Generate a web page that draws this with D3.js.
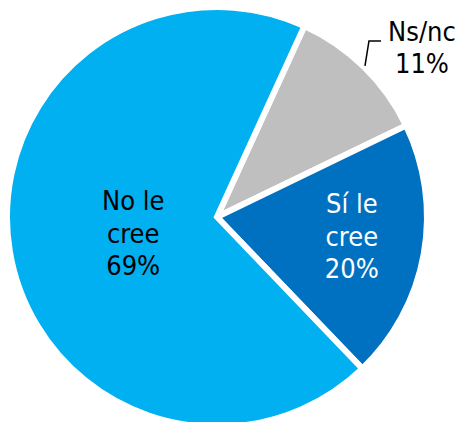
<!DOCTYPE html>
<html>
<head>
<meta charset="utf-8">
<script src="https://cdn.jsdelivr.net/npm/d3@7"></script>
<style>
  html, body { margin: 0; padding: 0; background: #ffffff; }
  svg { display: block; }
  text { font-family: "DejaVu Sans Condensed", "DejaVu Sans", sans-serif; font-stretch: condensed; font-size: 27px; }
</style>
</head>
<body>
<svg id="chart" width="463" height="422"></svg>
<script>
// Data
const categories = ["Ns/nc", "Sí le cree", "No le cree"];
const labelLines = [["Ns/nc"], ["Sí le", "cree"], ["No le", "cree"]];
const values = [11, 20, 69];
const colors = ["#BFBFBF", "#0070C0", "#00B0F0"];
const textColors = ["#000000", "#ffffff", "#000000"];

const width = 463, height = 422;
const cx = 217, cy = 217;
const outerR = 210;
const startDeg = 24.6;

const svg = d3.select("#chart");
const g = svg.append("g").attr("transform", `translate(${cx},${cy})`);

const pie = d3.pie().sort(null).value(d => d)
  .startAngle(startDeg * Math.PI / 180)
  .endAngle((startDeg + 360) * Math.PI / 180);
const arcs = pie(values);

const arc = d3.arc().innerRadius(0).outerRadius(outerR);

g.selectAll("path.slice")
  .data(arcs)
  .join("path")
  .attr("class", "slice")
  .attr("d", arc)
  .attr("fill", (d, i) => colors[i])
  .attr("stroke", "#ffffff")
  .attr("stroke-width", 6)
  .attr("stroke-linejoin", "miter");

// Inside labels (Sí le cree, No le cree)
const labelRadius = [0, 137, 85];
const lineH = 32.5;
[1, 2].forEach(i => {
  const a = arcs[i];
  const la = d3.arc().innerRadius(labelRadius[i]).outerRadius(labelRadius[i]);
  const [x, y] = la.centroid(a);
  const lines = labelLines[i].concat([values[i] + "%"]);
  const t = g.append("text")
    .attr("text-anchor", "middle")
    .attr("fill", textColors[i])
    .attr("x", x)
    .attr("y", y + (i === 1 ? 4.5 : 11.5) - lineH);
  lines.forEach((s, k) => {
    t.append("tspan").attr("x", x).attr("dy", k === 0 ? 0 : lineH).text(s);
  });
});

// Outside label for Ns/nc with leader line
{
  const a = arcs[0];
  const mid = (a.startAngle + a.endAngle) / 2;
  const r0 = outerR + 1.5;
  const p0 = [Math.sin(mid) * r0, -Math.cos(mid) * r0];
  const p1 = [p0[0] + 4, p0[1] - 25];
  const p2 = [p1[0] + 12, p1[1]];
  g.append("polyline")
    .attr("points", [p0, p1, p2].map(p => p.join(",")).join(" "))
    .attr("fill", "none")
    .attr("stroke", "#000000")
    .attr("stroke-width", 1.5);
  const tx = p2[0] + 41;
  const t = g.append("text")
    .attr("text-anchor", "middle")
    .attr("fill", textColors[0])
    .attr("x", tx)
    .attr("y", p2[1]);
  const lines = labelLines[0].concat([values[0] + "%"]);
  lines.forEach((s, k) => {
    t.append("tspan").attr("x", tx).attr("dy", k === 0 ? 0 : lineH).text(s);
  });
}
</script>
</body>
</html>
